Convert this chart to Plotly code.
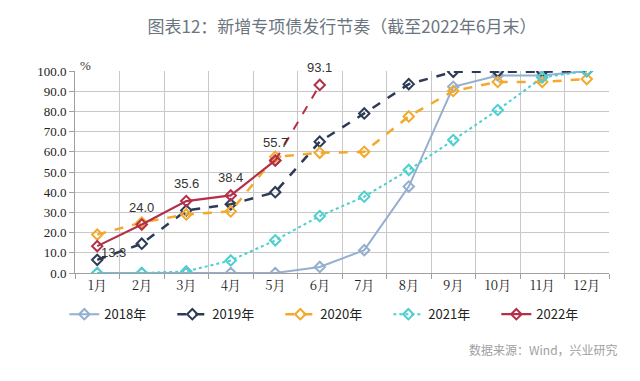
import plotly.graph_objects as go

months = ["1月", "2月", "3月", "4月", "5月", "6月", "7月", "8月", "9月", "10月", "11月", "12月"]
y2018 = [0, 0, 0, 0, 0, 3, 11.3, 42.8, 92.2, 97.8, 97.8, 100]
y2019 = [6.5, 14.5, 31, 34, 40, 65, 79, 93.5, 99.6, 99.6, 99.6, 100]
y2020 = [19, 25, 29, 30.5, 57.5, 59.5, 60, 77.5, 90.1, 94.6, 94.6, 96]
y2021 = [0, 0, 0.8, 6.2, 16.2, 28.2, 37.8, 51, 65.8, 80.7, 96.8, 100]
y2022 = [13.3, 24.0, 35.6, 38.4, 55.7, 93.1]
labels2022 = ["13.3", "24.0", "35.6", "38.4", "55.7", "93.1"]
yticks = [0, 10, 20, 30, 40, 50, 60, 70, 80, 90, 100]

c2018 = "#94AFCF"
c2019 = "#2D3B57"
c2020 = "#F2A92C"
c2021 = "#4DCFD0"
c2022 = "#B43049"

fig = go.Figure()
mk = dict(symbol="diamond-open", size=8, line=dict(width=2))

fig.add_trace(go.Scatter(x=months, y=y2018, name="2018年", mode="lines+markers",
                         line=dict(color=c2018, width=2), marker=dict(color=c2018, **mk)))
fig.add_trace(go.Scatter(x=months, y=y2019, name="2019年", mode="lines+markers",
                         line=dict(color=c2019, width=2.5, dash="dash"), marker=dict(color=c2019, **mk)))
fig.add_trace(go.Scatter(x=months, y=y2020, name="2020年", mode="lines+markers",
                         line=dict(color=c2020, width=2.5, dash="dash"), marker=dict(color=c2020, **mk)))
fig.add_trace(go.Scatter(x=months, y=y2021, name="2021年", mode="lines+markers",
                         line=dict(color=c2021, width=2, dash="dot"), marker=dict(color=c2021, **mk)))
# 2022 dashed segment (May -> June)
fig.add_trace(go.Scatter(x=months[4:6], y=y2022[4:6], name="2022年", mode="lines+markers",
                         showlegend=False,
                         line=dict(color=c2022, width=2, dash="dash"), marker=dict(color=c2022, **mk)))
fig.add_trace(go.Scatter(x=months[:5], y=y2022[:5], name="2022年", mode="lines+markers",
                         line=dict(color=c2022, width=2.2), marker=dict(color=c2022, **mk)))

# data labels for 2022
for i, (m, v, t) in enumerate(zip(months[:6], y2022, labels2022)):
    if i == 0:
        fig.add_annotation(x=m, y=v, text=t, showarrow=False, xanchor="left", yanchor="middle",
                           xshift=2, yshift=-6, font=dict(family="Liberation Sans, Arial", size=13, color="#333333"))
    else:
        fig.add_annotation(x=m, y=v, text=t, showarrow=False, xanchor="center", yanchor="bottom",
                           yshift=8, font=dict(family="Liberation Sans, Arial", size=13, color="#333333"))

fig.add_annotation(xref="paper", yref="paper", x=0.005, y=1.0, text="%", showarrow=False,
                   xanchor="left", yanchor="bottom", yshift=-4,
                   font=dict(family="Liberation Serif", size=13, color="#333333"))

fig.add_annotation(xref="paper", yref="paper", x=1.02, y=-0.381, text="数据来源：Wind，兴业研究",
                   showarrow=False, xanchor="right", yanchor="middle",
                   font=dict(family="Noto Sans CJK SC", size=12, color="#A0A0A0"))

fig.update_layout(
    width=640, height=381,
    margin=dict(l=75, r=31, t=71, b=108),
    paper_bgcolor="white", plot_bgcolor="white",
    title=dict(text="图表12：新增专项债发行节奏（截至2022年6月末）", x=0.5, xanchor="center",
               xref="paper", y=1 - 27 / 381, yanchor="middle", yref="container",
               font=dict(family="Noto Sans CJK SC", size=17, color="#6B7580")),
    showlegend=True,
    legend=dict(orientation="h", x=-0.02, y=-0.13, xanchor="left", yanchor="top",
                font=dict(family="Noto Sans CJK SC", size=13, color="#222222"),
                itemwidth=30, entrywidth=63, entrywidthmode="pixels", traceorder="normal"),
    font=dict(family="Liberation Serif", color="#222222"),
)

fig.update_xaxes(type="category", range=[-0.5, 11.5], tickson="boundaries",
                 showgrid=True, gridcolor="#C8C8C8", gridwidth=1,
                 showline=True, linecolor="#A0A0A0", ticks="outside", ticklen=5, tickcolor="#A0A0A0",
                 tickfont=dict(family="Noto Serif CJK SC, Liberation Serif", size=13, color="#222222"),
                 mirror=False, zeroline=False)
fig.update_yaxes(range=[0, 100], tickvals=yticks, ticktext=[f"{v:.1f}" for v in yticks],
                 showgrid=True, gridcolor="#C8C8C8", gridwidth=1,
                 showline=True, linecolor="#A0A0A0", ticks="outside", ticklen=5, tickcolor="#A0A0A0",
                 tickfont=dict(family="Liberation Serif", size=13, color="#222222"),
                 zeroline=False)

fig.write_html("out.html", config={"displayModeBar": False},
               post_script="document.body.style.margin='0px';")
